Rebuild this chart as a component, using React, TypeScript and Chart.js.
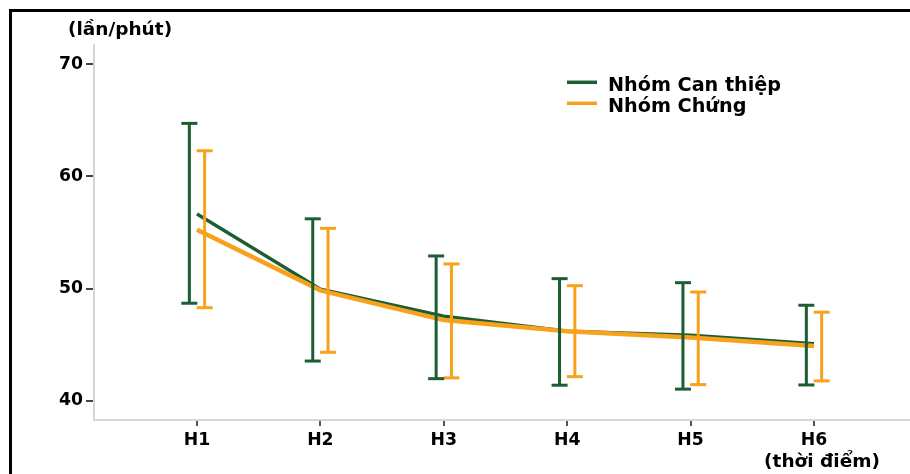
import React, { useEffect, useRef } from 'react';
import { Chart, registerables } from 'chart.js';

Chart.register(...registerables);

// ---- data ----
const categories = ['H1', 'H2', 'H3', 'H4', 'H5', 'H6'];
const yTicks = [40, 50, 60, 70];
const seriesLabels = ['Nhóm Can thiệp', 'Nhóm Chứng'];
const canThiepMean = [56.65, 49.95, 47.55, 46.2, 45.85, 45.1];
const canThiepLow = [48.7, 43.55, 41.98, 41.4, 41.05, 41.42];
const canThiepHigh = [64.72, 56.22, 52.91, 50.89, 50.53, 48.52];
const chungMean = [55.25, 49.85, 47.2, 46.2, 45.65, 44.9];
const chungLow = [48.3, 44.33, 42.05, 42.16, 41.45, 41.78];
const chungHigh = [62.28, 55.37, 52.2, 50.26, 49.7, 47.9];
const yAxisTitle = '(lần/phút)';
const xAxisTitle = '(thời điểm)';

const GREEN = '#1A5E31';
const ORANGE = '#F8A11C';
const FONT = '"DejaVu Sans", "Liberation Sans", Arial, sans-serif';
const BAR_OFFSET = 0.062; // error-bar horizontal offset, in category units

function meanPoints(values: number[]) {
  return values.map((v, i) => ({ x: i + 1, y: v }));
}

function errorPoints(low: number[], high: number[], offset: number) {
  const pts: any[] = [];
  low.forEach((lo, i) => {
    const x = i + 1 + offset;
    pts.push({ x, y: lo }, { x, y: high[i] }, { x, y: null });
  });
  return pts;
}

const textPlugin = {
  id: 'customText',
  afterDraw(chart: any) {
    const ctx = chart.ctx as CanvasRenderingContext2D;
    ctx.save();
    ctx.font = `bold 18.5px ${FONT}`;
    ctx.fillStyle = '#000';
    ctx.textBaseline = 'alphabetic';
    ctx.textAlign = 'left';
    ctx.fillText(yAxisTitle, 56, 22.5);
    ctx.textAlign = 'center';
    ctx.fillText(xAxisTitle, 810, 454.6);
    ctx.font = `bold 19.2px ${FONT}`;
    const items = chart.data.datasets.filter((d: any) => d.inLegend);
    items.forEach((d: any, i: number) => {
      const y = 70.3 + i * 21;
      ctx.strokeStyle = d.borderColor;
      ctx.lineWidth = 3.5;
      ctx.beginPath();
      ctx.moveTo(555, y);
      ctx.lineTo(585, y);
      ctx.stroke();
      ctx.textAlign = 'left';
      ctx.fillText(d.label, 596, 78.9 + i * 21);
    });
    ctx.restore();
  },
};

export default function App() {
  const ref = useRef<HTMLCanvasElement | null>(null);

  useEffect(() => {
    document.body.style.margin = '0';
    document.body.style.overflow = 'hidden';
    if (!ref.current) return;
    const tickFont = { family: FONT, weight: 'bold' as const, size: 17.3 };
    const chart = new Chart(ref.current, {
      type: 'line',
      data: {
        datasets: [
          {
            label: seriesLabels[0],
            data: meanPoints(canThiepMean),
            borderColor: GREEN,
            borderWidth: 3.5,
            pointRadius: 0,
            tension: 0,
            inLegend: true,
            order: 2,
          } as any,
          {
            label: seriesLabels[1],
            data: meanPoints(chungMean),
            borderColor: ORANGE,
            borderWidth: 4.5,
            pointRadius: 0,
            tension: 0,
            inLegend: true,
            order: 1,
          } as any,
          {
            label: 'err-can-thiep',
            data: errorPoints(canThiepLow, canThiepHigh, -BAR_OFFSET),
            borderColor: GREEN,
            borderWidth: 3,
            pointStyle: 'line',
            pointRadius: 8,
            pointBorderWidth: 3,
            pointBorderColor: GREEN,
            spanGaps: false,
            order: 0,
          } as any,
          {
            label: 'err-chung',
            data: errorPoints(chungLow, chungHigh, BAR_OFFSET),
            borderColor: ORANGE,
            borderWidth: 3,
            pointStyle: 'line',
            pointRadius: 8,
            pointBorderWidth: 3,
            pointBorderColor: ORANGE,
            spanGaps: false,
            order: 0,
          } as any,
        ],
      },
      options: {
        animation: false,
        responsive: false,
        layout: { autoPadding: false, padding: { top: 33, left: 0, right: 0, bottom: 0 } },
        plugins: {
          legend: { display: false },
          tooltip: { enabled: false },
        },
        scales: {
          x: {
            type: 'linear',
            min: 0.1653,
            max: 6.778,
            afterBuildTicks: (scale: any) => {
              scale.ticks = categories.map((_, i) => ({ value: i + 1 }));
            },
            afterFit: (scale: any) => {
              scale.height = 54;
              scale.paddingLeft = 0;
              scale.paddingRight = 0;
            },
            ticks: {
              callback: (value: any) => categories[Number(value) - 1] ?? '',
              font: tickFont,
              color: '#000',
              padding: 4,
              maxRotation: 0,
              autoSkip: false,
            },
            grid: {
              drawOnChartArea: false,
              drawTicks: true,
              tickLength: 6,
              color: '#555',
              lineWidth: 2,
            },
            border: { display: true, color: '#d6d6d6', width: 2 },
          },
          y: {
            type: 'linear',
            min: 38.3,
            max: 71.7,
            afterBuildTicks: (scale: any) => {
              scale.ticks = yTicks.map((v) => ({ value: v }));
            },
            afterFit: (scale: any) => {
              scale.width = 82;
            },
            ticks: {
              font: tickFont,
              color: '#000',
              padding: 3,
            },
            grid: {
              drawOnChartArea: false,
              drawTicks: true,
              tickLength: 8,
              color: '#444',
              lineWidth: 2,
            },
            border: { display: true, color: '#d6d6d6', width: 2 },
          },
        },
      } as any,
      plugins: [textPlugin],
    });
    return () => chart.destroy();
  }, []);

  return (
    <div
      style={{
        position: 'absolute',
        left: 9,
        top: 9,
        width: 898,
        height: 462,
        borderTop: '3px solid #000',
        borderLeft: '3px solid #000',
        background: '#fff',
      }}
    >
      <canvas ref={ref} width={898} height={462} style={{ display: 'block' }} />
    </div>
  );
}
